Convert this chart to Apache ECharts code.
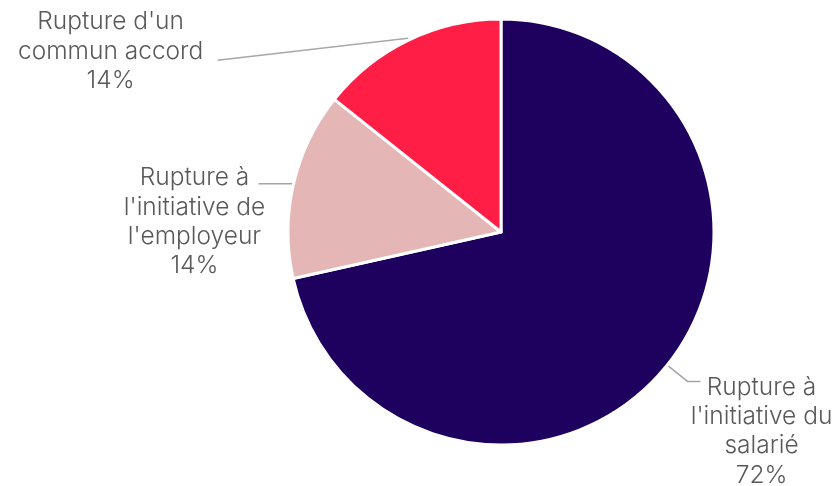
<!DOCTYPE html>
<html><head><meta charset="utf-8">
<script src="https://cdn.jsdelivr.net/npm/echarts@6/dist/echarts.min.js"></script>
<style>html,body{margin:0;padding:0;background:#fff}#c{width:840px;height:486px}</style>
</head><body><div id="c"></div>
<script>
// Data
const categories = ["Rupture à l'initiative du salarié", "Rupture à l'initiative de l'employeur", "Rupture d'un commun accord"];
const values = [71.5, 14.2, 14.3];
const labelLines = [["Rupture à", "l'initiative du", "salarié"], ["Rupture à", "l'initiative de", "l'employeur"], ["Rupture d'un", "commun accord"]];

// Styles
const colors = ['#1e005e', '#e5b6b6', '#ff1e46'];
const lineLen = [[26, 13], [2, 33], [2, 190]];
const labelOffset = [[61, 50], [-64, 38], [-107, -9]];
const lineDrop = [0, 0, 22];

const chart = echarts.init(document.getElementById('c'));
chart.setOption({
  animation: false,
  series: [{
    type: 'pie',
    center: [501, 232],
    radius: 213,
    startAngle: 90,
    clockwise: true,
    avoidLabelOverlap: false,
    percentPrecision: 0,
    itemStyle: { borderColor: '#fff', borderWidth: 3 },
    label: {
      show: true,
      position: 'outside',
      width: 200,
      overflow: 'none',
      formatter: function (p) {
        const ls = labelLines[p.dataIndex].concat([p.percent + '%']);
        return ls.map(s => '{t|' + s + '}').join('\n');
      },
      rich: {
        t: { align: 'center', fontSize: 24.5, fontWeight: 350, lineHeight: 29.2, color: '#595959', fontFamily: 'Inter' }
      }
    },
    labelLine: { show: true, lineStyle: { color: '#a6a6a6', width: 1.5 } },
    labelLayout: function (params) {
      const i = params.dataIndex;
      const pts = params.labelLinePoints;
      if (!pts) return {};
      const end = pts[pts.length - 1];
      end[1] += lineDrop[i];
      return {
        x: end[0] + labelOffset[i][0],
        y: end[1] + labelOffset[i][1],
        align: 'center',
        verticalAlign: 'middle',
        labelLinePoints: pts
      };
    },
    data: categories.map((c, i) => ({
      name: c,
      value: values[i],
      itemStyle: { color: colors[i] },
      labelLine: { length: lineLen[i][0], length2: lineLen[i][1] }
    }))
  }]
});
</script></body></html>
